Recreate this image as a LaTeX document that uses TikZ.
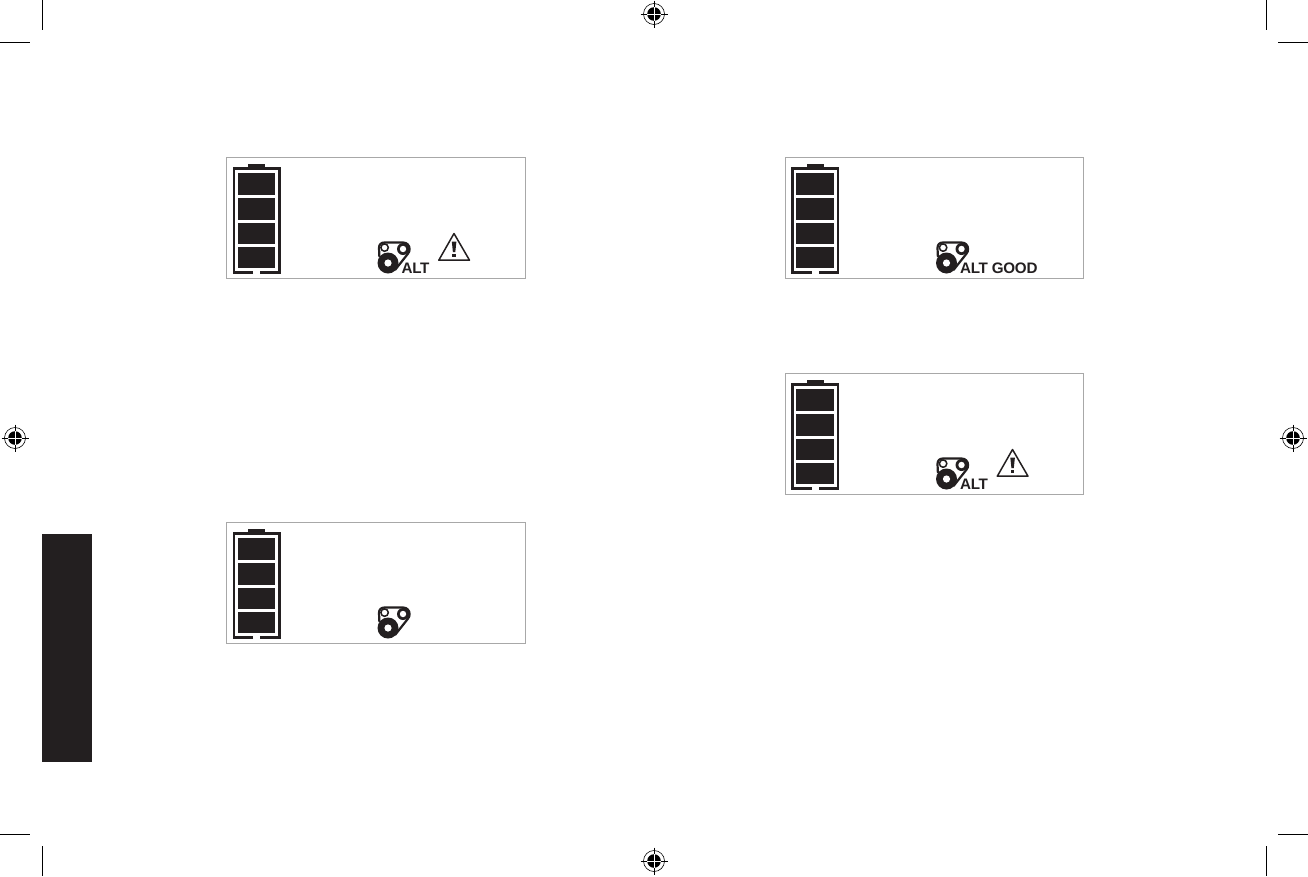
\documentclass[tikz,border=0pt]{standalone}
\usepackage{fontspec}
\setmainfont{Liberation Sans}
\definecolor{ink}{HTML}{231F20}
\definecolor{frame}{HTML}{A8A8A8}
\tikzset{
  x=1pt,y=-1pt,
  crop/.style={draw=black,line width=1pt},
  panelbox/.style={draw=frame,line width=1.1pt,fill=white,inner sep=0pt,minimum width=298.5pt,minimum height=121pt,anchor=north west},
  batt/.style={draw=ink,line width=2.7pt},
  belt/.style={draw=ink,line width=2.2pt,line join=round},
  alttext/.style={inner sep=0pt,anchor=south west,text=ink,font=\fontsize{15.2}{15.2}\selectfont\bfseries\addfontfeature{LetterSpace=-2}},
  pics/regmark/.style={code={
    \draw[black,line width=0.6pt] (0,0) circle (10.5);
    \fill[black] (0,0) circle (6.8);
    \draw[black,line width=1pt] (-13.5,0) -- (13.5,0) (0,-13.5) -- (0,13.5);
    \draw[white,line width=0.7pt] (-6.8,0) -- (6.8,0) (0,-6.8) -- (0,6.8);
  }},
  pics/battery/.style={code={
    \fill[ink] (22,7) rectangle (39,11);
    \draw[batt] (27,115.7) -- (8,115.7) -- (8,11.7) -- (53.4,11.7) -- (53.4,115.7) -- (34,115.7);
    \foreach \yy in {16.3,41.3,65.7,90}{\fill[ink] (11.7,\yy) rectangle (49,\yy+21.2);}
  }},
  pics/beltdrive/.style={code={
    \draw[belt] (153.4,100) -- (153,91) .. controls (153,87.5) and (155,85.5) .. (158.5,85.5) -- (177,85.5) .. controls (181,85.5) and (183.6,88.5) .. (183.6,92) .. controls (183.6,94) and (183,95.5) .. (181.7,97) -- (169,113);
    \fill[ink] (162,106) circle (10.5);
    \fill[white] (162,106) circle (3.6);
    \draw[ink,line width=1.5pt,fill=white] (158.6,90.6) circle (3.7);
    \fill[ink] (177,92) circle (6);
    \fill[white] (177,92) circle (3.2);
  }},
  pics/warning/.style={code={
    \draw[ink,line width=1.5pt,line join=round] (228,76.5) -- (243.5,103.2) -- (212.8,103.2) -- cycle;
    \fill[ink] (225.8,84.5) -- (230.4,84.5) -- (229.3,95) -- (226.9,95) -- cycle;
    \fill[ink] (226.3,96.6) rectangle (229.9,100);
  }},
}
\begin{document}
\begin{tikzpicture}
\useasboundingbox (0,0) rectangle (1308,876);
\fill[white] (0,0) rectangle (1308,876);
% crop marks
\draw[crop] (0,42) -- (30,42) (42,0) -- (42,30);
\draw[crop] (1278,42) -- (1308,42) (1266,0) -- (1266,30);
\draw[crop] (0,834.5) -- (30,834.5) (42,846) -- (42,876);
\draw[crop] (1278,834.5) -- (1308,834.5) (1266,846) -- (1266,876);
% registration marks
\pic at (654,14) {regmark};
\pic at (654,861) {regmark};
\pic at (15,438) {regmark};
\pic at (1293,438) {regmark};
% side tab
\node[fill=ink,inner sep=0pt,minimum width=50pt,minimum height=228pt] (tab) at (67,648) {};
% panel A
\node[panelbox] (pa) at (226,157) {};
\pic at (pa.north west) {battery};
\pic at (pa.north west) {beltdrive};
\pic at (pa.north west) {warning};
\node[alttext] (pat) at ([xshift=175.5pt,yshift=5pt]pa.south west) {ALT};
% panel B
\node[panelbox] (pb) at (784.5,157) {};
\pic at (pb.north west) {battery};
\pic at (pb.north west) {beltdrive};
\node[alttext] (pbt) at ([xshift=175.5pt,yshift=5pt]pb.south west) {ALT GOOD};
% panel C
\node[panelbox] (pc) at (226,522) {};
\pic at (pc.north west) {battery};
\pic at (pc.north west) {beltdrive};
% panel D
\node[panelbox] (pd) at (784.5,373) {};
\pic at (pd.north west) {battery};
\pic at (pd.north west) {beltdrive};
\pic at (pd.north west) {warning};
\node[alttext] (pdt) at ([xshift=175.5pt,yshift=5pt]pd.south west) {ALT};
\end{tikzpicture}
\end{document}
